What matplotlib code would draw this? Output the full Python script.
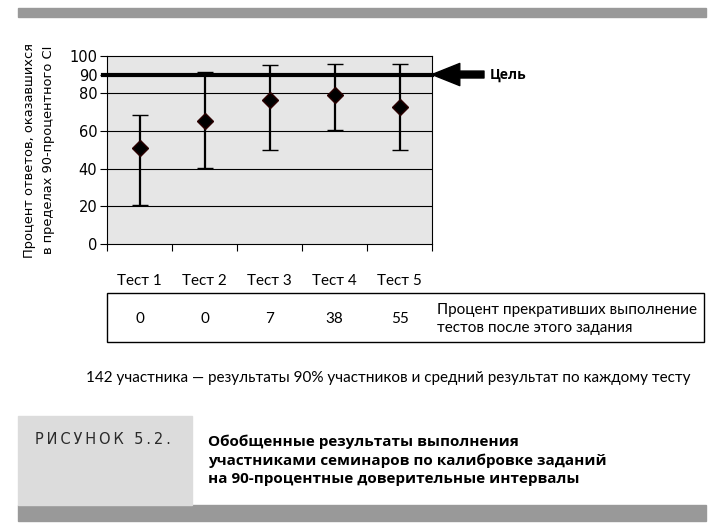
import matplotlib.pyplot as plt
import matplotlib.transforms as mtransforms
from matplotlib.patches import Rectangle

# data
tests = ["Тест 1", "Тест 2", "Тест 3", "Тест 4", "Тест 5"]
means = [51, 65.5, 76.5, 79, 72.5]
upper = [68.5, 91.5, 95, 95.5, 95.5]
lower = [20.5, 40.5, 50, 60.5, 50]
dropped = [0, 0, 7, 38, 55]
target = 90
y_ticks = [0, 20, 40, 60, 80, 90, 100]
grid_levels = [20, 40, 60, 80]

ylabel = "Процент ответов, оказавшихся\nв пределах 90-процентного CI"
target_label = "Цель"
dropped_label = "Процент прекративших выполнение\nтестов после этого задания"
footnote = "142 участника — результаты 90% участников и средний результат по каждому тесту"
fig_label = "РИСУНОК 5.2."
fig_title = ("Обобщенные результаты выполнения\n"
             "участниками семинаров по калибровке заданий\n"
             "на 90-процентные доверительные интервалы")

narrow = ["Lato", "DejaVu Sans"]
W, H = 720, 528

fig = plt.figure(figsize=(7.2, 5.28), dpi=100)


def fx(px):
    return px / W


def fy(py):
    return 1 - py / H


# grey bars at the top and bottom, light box for the figure number
fig.patches.append(Rectangle((fx(18), fy(17)), fx(688), 9 / H,
                             transform=fig.transFigure, color="#999999"))
fig.patches.append(Rectangle((fx(18), fy(521)), fx(688), 16 / H,
                             transform=fig.transFigure, color="#999999"))
fig.patches.append(Rectangle((fx(18), fy(505)), fx(174), 89 / H,
                             transform=fig.transFigure, color="#dcdcdc"))

ax = fig.add_axes([fx(107), fy(244), fx(325), (244 - 55.7) / H])
ax.set_facecolor("#e6e6e6")

x = list(range(1, len(tests) + 1))
yerr = [[m - lo for m, lo in zip(means, lower)],
        [hi - m for m, hi in zip(means, upper)]]

for level in grid_levels:
    ax.axhline(level, color="black", lw=0.8, zorder=1)

ax.axhline(target, xmin=-0.012, xmax=1, color="black", lw=3, zorder=2,
           clip_on=False)

ax.errorbar(x, means, yerr=yerr, fmt="D", color="black", ms=8.5,
            mec="#2a0000", mew=1, ecolor="black", elinewidth=1.6,
            capsize=5.8, capthick=1.8, zorder=3)

ax.set_xlim(0.5, len(tests) + 0.5)
ax.set_ylim(0, 100)
ax.set_yticks(y_ticks)
ax.set_xticks([i + 0.5 for i in range(len(tests) + 1)])
ax.set_xticklabels([])
ax.tick_params(axis="y", labelsize=10.5, length=5, width=0.8, pad=2)
ax.tick_params(axis="x", length=5, width=0.8)
for spine in ax.spines.values():
    spine.set_linewidth(0.8)

# arrow pointing at the target line
trans = mtransforms.blended_transform_factory(ax.transAxes, ax.transData)
ax.annotate("", xy=(1.0, target), xytext=(1.16, target), xycoords=trans,
            textcoords=trans,
            arrowprops=dict(arrowstyle="simple,head_length=2.0,head_width=1.6,tail_width=0.5",
                            color="black", shrinkA=0, shrinkB=0))
ax.text(fx(490 - 432) / fx(325) + 1, target, target_label, transform=trans,
        ha="left", va="center", fontsize=10, fontweight="bold",
        family=["Open Sans", "DejaVu Sans"])

fig.text(fx(39), fy(150), ylabel, rotation=90, ha="center", va="center",
         fontsize=9.4, linespacing=1.65)

# test names and the drop-out table
tx = mtransforms.blended_transform_factory(ax.transData, fig.transFigure)
for xi, name, d in zip(x, tests, dropped):
    fig.text(xi, fy(281), name, transform=tx, ha="center", va="center",
             fontsize=11, family=narrow)
    fig.text(xi, fy(319), str(d), transform=tx, ha="center", va="center",
             fontsize=11, family=narrow)

fig.patches.append(Rectangle((fx(107), fy(342)), fx(597), 49 / H,
                             transform=fig.transFigure, fill=False,
                             ec="black", lw=1))
fig.text(fx(437), fy(319), dropped_label, ha="left", va="center",
         fontsize=11, family=narrow, linespacing=1.35)

fig.text(fx(86), fy(378), footnote, ha="left", va="center", fontsize=11,
         family=narrow)

fig.text(fx(35), fy(439), "\u2009".join(fig_label), ha="left", va="center",
         fontsize=10.5, color="#2a2a2a")
fig.text(fx(208), fy(460), fig_title, ha="left", va="center", fontsize=11,
         fontweight="bold", family=["Open Sans", "DejaVu Sans"],
         linespacing=1.4)

fig.savefig("out.png", dpi=100)
